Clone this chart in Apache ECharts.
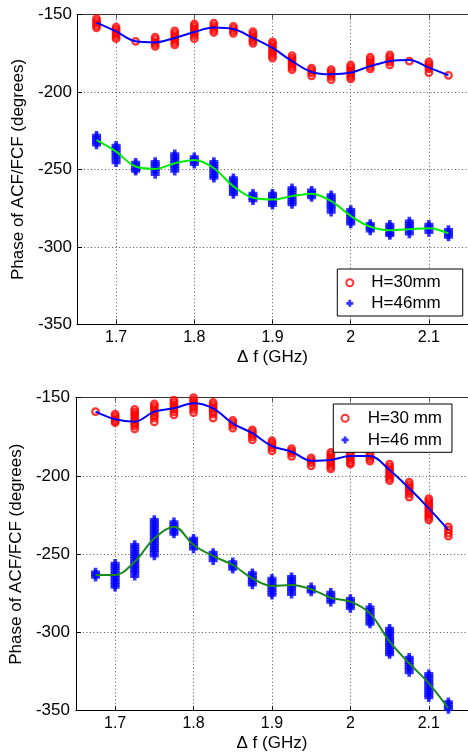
<!DOCTYPE html>
<html>
<head>
<meta charset="utf-8">
<script src="https://cdn.jsdelivr.net/npm/echarts@6/dist/echarts.min.js"></script>
<style>
html,body{margin:0;padding:0;background:#fff;}
#c{width:468px;height:753px;}
</style>
</head>
<body>
<div id="c"></div>
<script>
// ---------- data ----------
const freqs = [1.675, 1.7, 1.725, 1.75, 1.775, 1.8, 1.825, 1.85, 1.875, 1.9, 1.925, 1.95, 1.975, 2.0, 2.025, 2.05, 2.075, 2.1, 2.125];
const xTicks = [1.7, 1.8, 1.9, 2.0, 2.1];
const xTickLabels = ['1.7', '1.8', '1.9', '2', '2.1'];
const yTicks = [-350, -300, -250, -200, -150];

const topNames = ['H=30mm', 'H=46mm'];
const botNames = ['H=30 mm', 'H=46 mm'];
const xTitle = '\u0394 f (GHz)';
const yTitle = 'Phase of ACF/FCF (degrees)';

// top panel measurements (several repeated measurements per frequency)
const top30 = [
  [-152.5, -154, -155.5, -157, -158.5],
  [-158, -159.5, -161, -162.5, -164, -165.5],
  [-167.2],
  [-164.5, -166, -167.5, -169, -170.5],
  [-160.5, -162, -163.5, -165, -166.5, -168, -169.5],
  [-156, -157.5, -159, -160.5, -162, -163.5, -165.5],
  [-155.5, -157, -158.5, -160, -161.5],
  [-157.5, -159, -160.5, -162],
  [-161, -162.5, -164, -165.5, -167, -168.5],
  [-167.5, -169, -170.5, -172, -173.5, -175, -176.5, -178],
  [-176.5, -178, -179.5, -181, -182.5, -184, -185.5],
  [-184.5, -186, -187.5, -189.5],
  [-185.5, -187, -188.5, -190, -192],
  [-182.5, -184, -185.5, -187, -188.5, -190, -191.5],
  [-177.5, -179, -180.5, -182, -183.5, -185],
  [-176, -177.5, -179, -180.5, -182.5],
  [-180],
  [-180.5, -182, -183.5, -185, -187.5],
  [-189.2]
];
const top46 = [
  [-228, -229.5, -231, -232.5, -234],
  [-234.5, -236, -237.5, -239, -240.5, -242, -243.5, -245.5],
  [-245.5, -247, -248.5, -250, -251],
  [-245, -246.5, -248, -249.5, -251, -253],
  [-240, -241.5, -243, -244.5, -246, -247.5, -249, -251],
  [-242, -243.5, -245, -246.5],
  [-245, -246.5, -248, -249.5, -251, -252.5, -254, -255.5],
  [-255.5, -257, -258.5, -260, -261.5, -263, -264.5, -266],
  [-265.5, -267, -268.5, -270],
  [-265.5, -267, -268.5, -270, -271.5, -273],
  [-262, -263.5, -265, -266.5, -268, -269.5, -271, -272.5],
  [-263.5, -265, -266.5, -268],
  [-266.5, -268, -269.5, -271, -272.5, -274, -275.5, -277.5],
  [-276, -277.5, -279, -280.5, -282, -283.5, -285],
  [-285, -286.5, -288, -289.5],
  [-285.5, -287, -288.5, -290, -291.5, -292.5],
  [-283.5, -285, -286.5, -288, -289.5, -291.5],
  [-285.5, -287, -288.5, -290.5],
  [-289, -290.5, -292, -293.5]
];
const topFit30 = [-155.1, -160.8, -167.2, -167.9, -165, -161.2, -158.3, -159.3, -165, -171.5, -180, -187, -188.5, -187.4, -183.2, -180, -179.3, -184.2, -189.1];
const topFit46 = [-231.1, -238.5, -248.1, -249.6, -246, -243.9, -249.2, -260.9, -268.3, -269.4, -267.2, -265.6, -270.4, -280, -287, -289.2, -288.6, -287.9, -291.3];

// bottom panel measurements
const bot30 = [
  [-158.9],
  [-160.5, -162, -163.5, -165, -166],
  [-157.5, -159, -160.5, -162, -163.5, -165, -166.5, -168, -170],
  [-154, -155.5, -157, -158.5, -160, -161.5, -163, -165.5],
  [-151.5, -153, -154.5, -156, -157.5, -159, -161],
  [-148.5, -150, -151.5, -153, -154.5, -156, -157.5, -159.5],
  [-153, -154.5, -156, -157.5, -159, -160.5, -163],
  [-164.5, -166, -167.5, -169.5],
  [-170.5, -172, -173.5, -175, -177],
  [-177.5, -179, -180.5, -182, -184],
  [-182.5, -184, -185.5, -187.5],
  [-188.5, -190, -191.5, -193.5],
  [-185, -186.5, -188, -189.5, -191, -192.5, -194, -195.5],
  [-185.5, -187, -188.5, -190, -191.5, -192.5],
  [-186, -187.5, -189, -190.5],
  [-192.5, -194, -195.5, -197, -198.5, -200, -201.5, -203],
  [-204, -205.5, -207, -208.5, -210, -211.5, -213.5],
  [-214.5, -216, -217.5, -219, -220.5, -222, -223.5, -225, -226.5, -228],
  [-232.5, -234.5, -236.5, -238.5]
];
const bot46 = [
  [-261.5, -263, -264.5],
  [-256, -257.5, -259, -260.5, -262, -263.5, -265, -266.5, -268, -269.5, -271],
  [-244, -245.5, -247, -248.5, -250, -251.5, -253, -254.5, -256, -257.5, -259, -260.5, -262, -264],
  [-228, -229.5, -231, -232.5, -234, -235.5, -237, -238.5, -240, -241.5, -243, -244.5, -246, -247.5, -249, -251],
  [-229.5, -231, -232.5, -234, -235.5, -237],
  [-240, -241.5, -243, -244.5, -246.5],
  [-249, -250.5, -252, -254],
  [-255, -256.5, -258, -259.5],
  [-262, -263.5, -265, -266.5, -268, -269.5],
  [-265.5, -267, -268.5, -270, -271.5, -273, -274.5, -276],
  [-264.5, -266, -267.5, -269, -270.5, -272, -273.5, -275.5],
  [-271, -272.5, -274],
  [-274.5, -276, -277.5, -279, -280.5],
  [-278.5, -280, -281.5, -283, -284.5],
  [-284, -285.5, -287, -288.5, -290, -291.5, -293, -294.5],
  [-297.5, -299, -300.5, -302, -303.5, -305, -306.5, -308, -309.5, -311, -312.5, -314],
  [-316, -317.5, -319, -320.5, -322, -323.5, -325.5],
  [-326.5, -328, -329.5, -331, -332.5, -334, -335.5, -337, -338.5, -340, -341.5],
  [-344.5, -346, -347.5, -349, -350.5, -352]
];
const botFit30 = [-158.9, -163.8, -165.3, -158.9, -156.8, -153.6, -156.8, -166.4, -172.7, -180.9, -184.5, -190.3, -189.8, -187.3, -187.3, -196.2, -207.9, -220.7, -234.5];
const botFit46 = [-263.3, -263.3, -254.8, -239.8, -232.4, -244.1, -251.2, -256.9, -265.4, -270.3, -269.7, -272.4, -277.8, -280.3, -287.8, -305.9, -319.7, -332.5, -348.5];

// ---------- build ----------
const FONT = '"Liberation Sans", Arial, Helvetica, sans-serif';
const PLUS = 'path://M3,0H7V3H10V7H7V10H3V7H0V3H3Z';
const pts = (groups) => freqs.flatMap((f, i) => groups[i].map(v => [f, v]));
const fit = (arr) => freqs.map((f, i) => [f, arr[i]]);

const grids = [
  {left: 77, top: 14.7, right: -1.3, height: 309.6},
  {left: 74.7, top: 397.7, right: -3, height: 313}
];

function xAxes(gi, nameGap) {
  return [{
    type: 'value', gridIndex: gi, min: 1.65, max: 2.15, position: 'bottom',
    name: xTitle, nameLocation: 'middle', nameGap: nameGap,
    nameTextStyle: {fontFamily: FONT, fontSize: 17, color: '#000'},
    axisLine: {show: true, onZero: false, lineStyle: {color: '#000', width: 1}},
    axisTick: {show: true, inside: true, length: 5, customValues: xTicks, lineStyle: {color: '#000'}},
    axisLabel: {show: true, customValues: xTicks, margin: 5, fontFamily: FONT, fontSize: 16, color: '#000',
      formatter: (v) => { const k = xTicks.findIndex(t => Math.abs(t - v) < 1e-6); return k >= 0 ? xTickLabels[k] : ''; }},
    splitLine: {show: false}
  }, {
    type: 'value', gridIndex: gi, min: 1.65, max: 2.15, position: 'top',
    axisLine: {show: true, onZero: false, lineStyle: {color: '#333', width: 1}},
    axisTick: {show: true, inside: true, length: 4, customValues: xTicks, lineStyle: {color: '#555'}},
    axisLabel: {show: false},
    splitLine: {show: false}
  }];
}
function yAxis(gi, nameGap, labelMargin) {
  return {
    type: 'value', gridIndex: gi, min: yTicks[0], max: yTicks[yTicks.length - 1], interval: 50,
    name: yTitle, nameLocation: 'middle', nameGap: nameGap, nameRotate: 90,
    nameTextStyle: {fontFamily: FONT, fontSize: 17, color: '#000'},
    axisLine: {show: true, onZero: false, lineStyle: {color: '#000', width: 1}},
    axisTick: {show: true, inside: true, length: 5, lineStyle: {color: '#000'}},
    axisLabel: {margin: labelMargin, fontFamily: FONT, fontSize: 17, color: '#000'},
    splitLine: {show: true, lineStyle: {color: '#555', width: 1, type: [1, 2.5]}}
  };
}

function scatter(name, gi, data, isCircle, withGrid) {
  const s = {
    type: 'scatter', name: name, xAxisIndex: gi * 2, yAxisIndex: gi, data: data,
    symbol: isCircle ? 'circle' : PLUS,
    symbolSize: isCircle ? 6.5 : 9,
    itemStyle: isCircle ? {color: 'rgba(255,255,255,0)', borderColor: '#ff0000', borderWidth: 2.3}
                        : {color: '#0000ff', borderWidth: 0},
    z: 2, silent: true
  };
  if (withGrid) {
    s.markLine = {
      silent: true, symbol: ['none', 'none'], label: {show: false},
      lineStyle: {color: '#555', width: 1, type: [1, 2.5]},
      data: xTicks.map(v => ({xAxis: v})), z: 1
    };
  }
  return s;
}
function fitLine(gi, data, color) {
  return {
    type: 'line', xAxisIndex: gi * 2, yAxisIndex: gi, data: data, smooth: 0.35,
    symbol: 'none', lineStyle: {color: color, width: 2}, z: 3, silent: true
  };
}

function legend(gi, names, left, top, pad, itemWidth, lineH) {
  return {
    orient: 'vertical', left: left, top: top, padding: pad,
    data: names, itemWidth: itemWidth, itemHeight: 7, itemGap: 0,
    borderColor: '#000', borderWidth: 1, backgroundColor: '#fff',
    selectedMode: false,
    textStyle: {fontFamily: FONT, fontSize: 17, color: '#000', lineHeight: lineH}
  };
}

const option = {
  animation: false,
  backgroundColor: '#fff',
  grid: grids,
  xAxis: [...xAxes(0, 25), ...xAxes(1, 24)],
  yAxis: [yAxis(0, 48, 5), yAxis(1, 46, 6)],
  legend: [
    legend(0, topNames, 337.3, 269, [3.4, 22, 2.4, 8], 33, 20.6),
    legend(1, botNames, 333.3, 404, [3.4, 10, 1.5, 7.3], 35.4, 21.7)
  ],
  series: [
    scatter(topNames[0], 0, pts(top30), true, true),
    scatter(topNames[1], 0, pts(top46), false, false),
    fitLine(0, fit(topFit30), '#0000ff'),
    fitLine(0, fit(topFit46), '#00ee00'),
    scatter(botNames[0], 1, pts(bot30), true, true),
    scatter(botNames[1], 1, pts(bot46), false, false),
    fitLine(1, fit(botFit30), '#0000ff'),
    fitLine(1, fit(botFit46), '#1a8a1a')
  ]
};

const chart = echarts.init(document.getElementById('c'), null, {renderer: 'canvas'});
chart.setOption(option);
</script>
</body>
</html>
